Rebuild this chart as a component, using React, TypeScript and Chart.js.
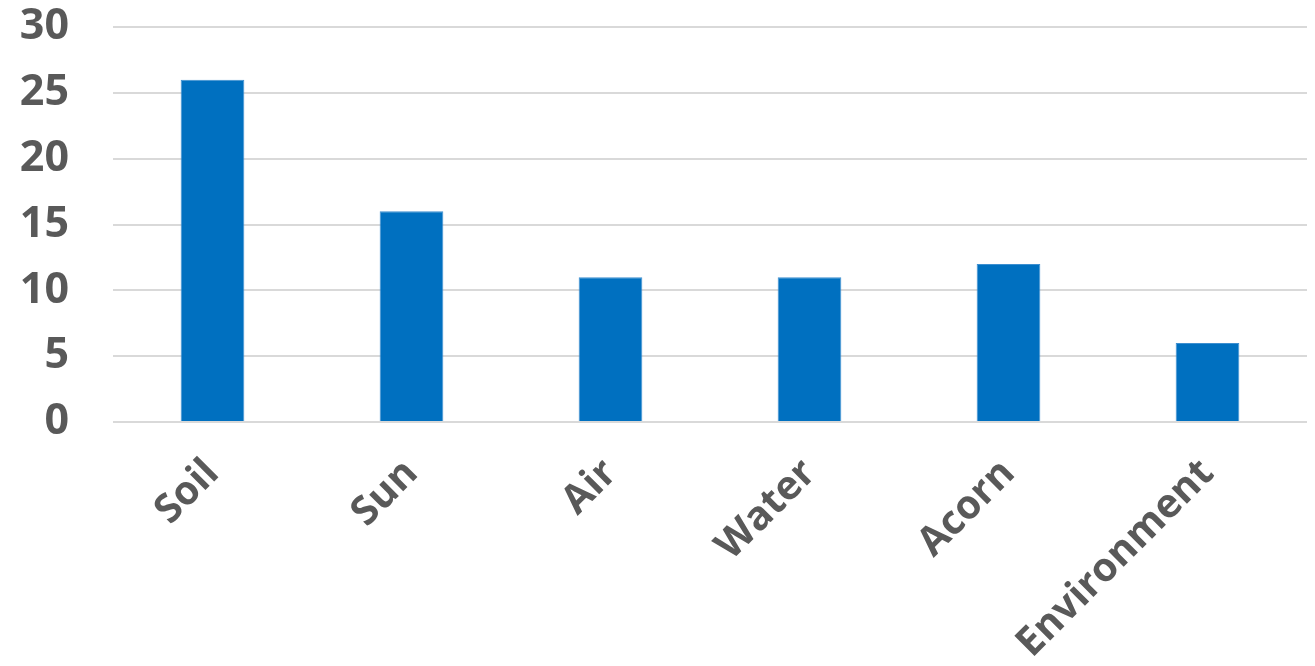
import React, { useEffect, useRef } from "react";
import { Chart, registerables } from "chart.js";

Chart.register(...registerables);

const categories = ["Soil", "Sun", "Air", "Water", "Acorn", "Environment"];
const values = [26, 16, 11, 11, 12, 6];
const yTicks = [0, 5, 10, 15, 20, 25, 30];

export default function App() {
  const ref = useRef<HTMLCanvasElement | null>(null);
  useEffect(() => {
    document.body.style.margin = "0";
    const ctx = ref.current!;
    const chart = new Chart(ctx, {
      type: "bar",
      data: {
        labels: categories,
        datasets: [
          {
            data: values,
            backgroundColor: "#0070C0",
            borderColor: "#3d8fd0",
            borderWidth: 1,
            barPercentage: 0.32,
            categoryPercentage: 1,
          },
        ],
      },
      options: {
        animation: false,
        responsive: false,
        maintainAspectRatio: false,
        layout: { padding: { top: 27, right: 8, left: 0, bottom: 0 } },
        plugins: { legend: { display: false }, tooltip: { enabled: false } },
        scales: {
          x: {
            grid: { display: false },
            border: { display: false },
            ticks: {
              color: "#595959",
              font: { family: "'Open Sans'", size: 40, weight: "bold" },
              minRotation: 45,
              maxRotation: 45,
              padding: 20,
              autoSkip: false,
            },
            afterFit: (s: any) => {
              s.height = 244;
              s.paddingLeft = 0;
              s.paddingRight = 0;
            },
          },
          y: {
            min: 0,
            max: 30,
            afterBuildTicks: (s: any) => {
              s.ticks = yTicks.map((v) => ({ value: v }));
            },
            grid: { color: "#d9d9d9", lineWidth: 2, drawTicks: false },
            border: { display: false },
            ticks: {
              color: "#595959",
              font: { family: "'Open Sans'", size: 43, weight: "bold" },
              padding: 44,
            },
            afterFit: (s: any) => {
              s.width = 113;
              s.paddingTop = 0;
              s.paddingBottom = 0;
            },
          },
        },
      },
    });
    return () => chart.destroy();
  }, []);
  return (
    <div style={{ width: 1315, height: 666 }}>
      <canvas ref={ref} width={1315} height={666} style={{ display: "block" }} />
    </div>
  );
}
